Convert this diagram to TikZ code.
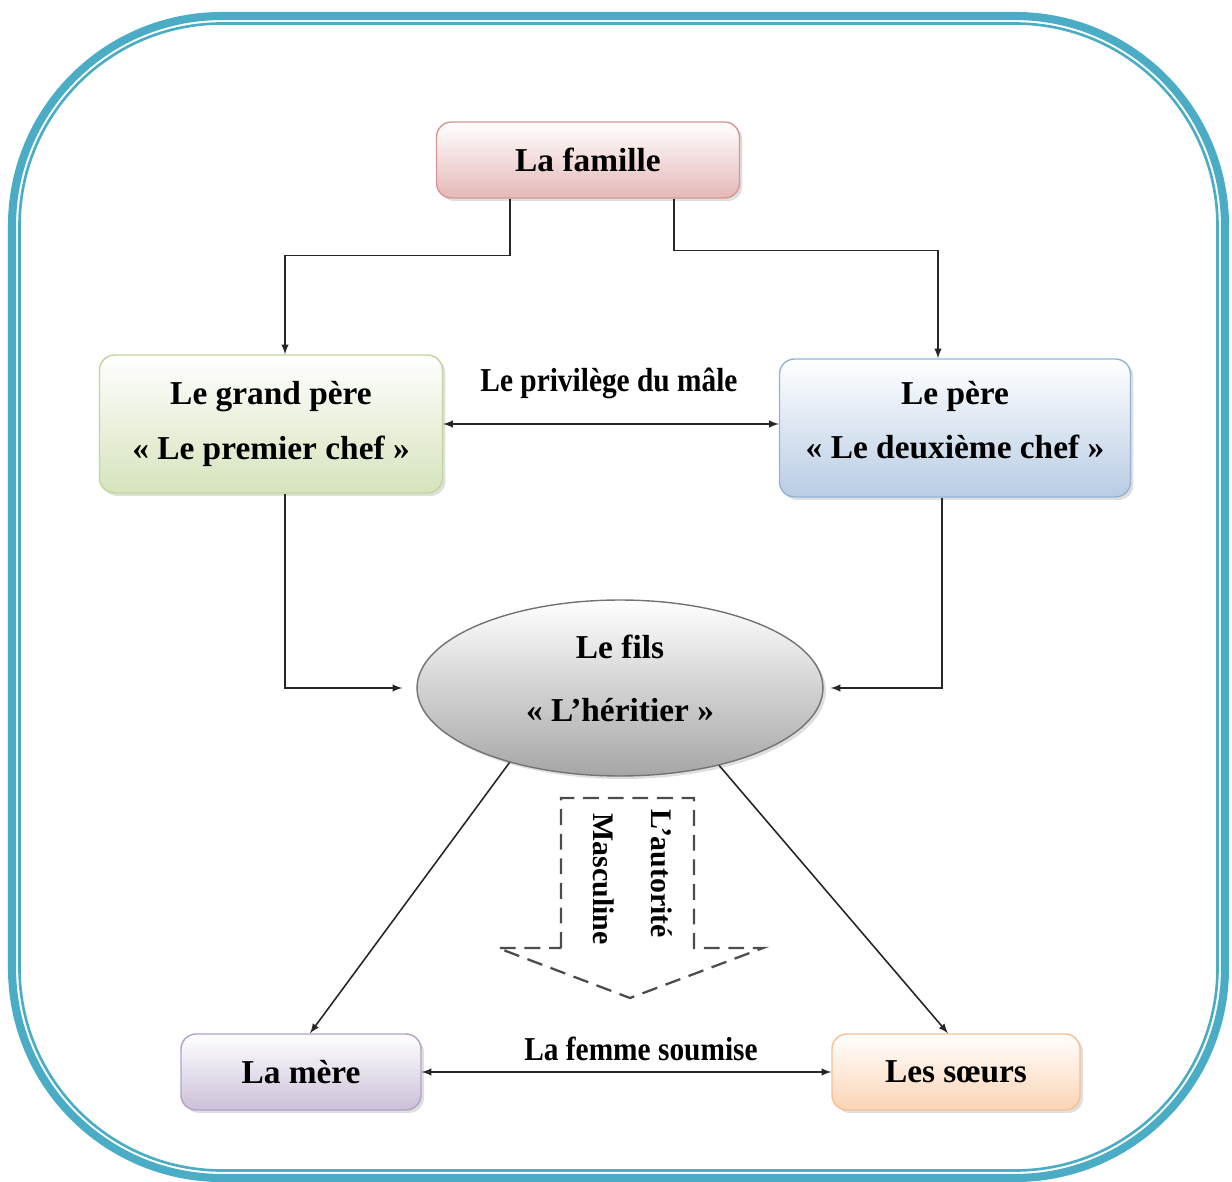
\documentclass[tikz,border=0pt]{standalone}
\usepackage{fontspec}
\setmainfont{Liberation Serif}
\newfontfamily\narrowserif[FakeStretch=0.88]{Liberation Serif}
\usetikzlibrary{shapes.geometric,shadows,calc}

\definecolor{framecyan}{HTML}{4BACC6}
\definecolor{pinkline}{HTML}{D99594}
\definecolor{pinkfill}{HTML}{E5B8B7}
\definecolor{greenline}{HTML}{C2D69B}
\definecolor{greenfill}{HTML}{D6E3BC}
\definecolor{blueline}{HTML}{95B3D7}
\definecolor{bluefill}{HTML}{B8CCE4}
\definecolor{purpleline}{HTML}{B2A1C7}
\definecolor{purplefill}{HTML}{CCC0D9}
\definecolor{orangeline}{HTML}{FABF8F}
\definecolor{orangefill}{HTML}{FBD4B4}

\begin{document}
\begin{tikzpicture}[x=0.02cm, y=-0.02cm,
      box/.style={draw=#1line, line width=0.8pt, top color=white, bottom color=#1fill,
        rounded corners=0.3cm, align=center, inner sep=0pt,
        drop shadow={opacity=0.25, shadow xshift=0.06cm, shadow yshift=-0.06cm},
        font=\bfseries\fontsize{19}{31}\selectfont},
      link/.style={draw=black!85, line width=0.9pt, -latex},
      caption/.style={font=\narrowserif\bfseries\fontsize{19}{23}\selectfont},
      upright/.style={rotate=-90, font=\bfseries\fontsize{17}{20}\selectfont}]
    \useasboundingbox (0,0) rectangle (1232,1182);
    \draw[framecyan, line width=4.6pt, rounded corners=4.2cm] (12,16) rectangle (1225,1178);
    \draw[framecyan, line width=1.5pt, rounded corners=4.05cm] (19.5,23.5) rectangle (1217.5,1170.5);

    \node[box=pink, minimum width=6.06cm, minimum height=1.52cm] (famille) at (588,160) {La famille};
    \node[box=green, minimum width=6.86cm, minimum height=2.76cm] (grandpere) at (271,424)
      {Le grand père\\« Le premier chef »};
    \node[box=blue, minimum width=7.02cm, minimum height=2.76cm, text depth=9pt] (pere) at (955,428)
      {Le père\\« Le deuxième chef »};
    \node[ellipse, draw=black!55, line width=0.8pt, top color=white, bottom color=black!35,
      minimum width=8.12cm, minimum height=3.52cm, inner sep=0pt, align=center, text depth=11pt,
      drop shadow={opacity=0.25, shadow xshift=0.06cm, shadow yshift=-0.06cm},
      font=\bfseries\fontsize{19}{36}\selectfont] (fils) at (620,688) {Le fils\\« L’héritier »};
    \node[box=purple, minimum width=4.8cm, minimum height=1.52cm] (mere) at (301,1072) {La mère};
    \node[box=orange, minimum width=4.96cm, minimum height=1.52cm] (soeurs) at (956,1072) {Les sœurs};

    \node[caption] (privilege) at (609,383) {Le privilège du mâle};
    \node[caption] (soumise) at (641,1049) {La femme soumise};

    \draw[link] ($(famille.south)+(-78,0)$) -- ++(0,57) -| ($(grandpere.north)+(14,0)$);
    \draw[link] ($(famille.south)+(86,0)$) -- ++(0,52) -| ($(pere.north)+(-17,0)$);
    \draw[link, latex-latex] (grandpere.east) -- (grandpere.east -| pere.west);
    \draw[link, shorten >=8pt] ($(grandpere.south)+(14,0)$) |- (fils.west);
    \draw[link, shorten >=4pt] ($(pere.south)+(-13,0)$) |- (fils.east);
    \draw[link] (fils.214) -- ($(mere.north)+(9,0)$);
    \draw[link] (fils.322) -- ($(soeurs.north)+(-8,0)$);
    \draw[link, latex-latex] (mere.east) -- (soeurs.west);

    \draw[black!70, line width=1.3pt, dash pattern=on 9pt off 5pt]
      (561,948) -- (561,798) -- (694,798) -- (694,948) -- (763,948) -- (630,998) -- (498,948) -- cycle;
    \node[upright] (autorite) at (662,874) {L’autorité};
    \node[upright] (masculine) at (604,879) {Masculine};
\end{tikzpicture}
\end{document}
